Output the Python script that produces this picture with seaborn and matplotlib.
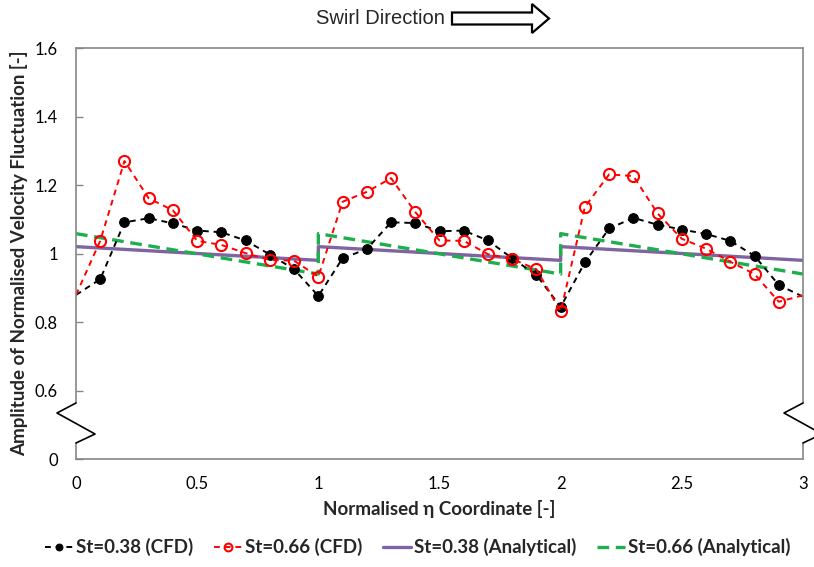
import numpy as np
import pandas as pd
import matplotlib
matplotlib.use("Agg")
import matplotlib.pyplot as plt
import matplotlib.patches as mpatches
from matplotlib.transforms import IdentityTransform
import seaborn as sns

# ---------------- data ----------------
eta_cfd = [0.0, 0.1, 0.2, 0.3, 0.4, 0.5, 0.6, 0.7, 0.8, 0.9,
           1.0, 1.1, 1.2, 1.3, 1.4, 1.5, 1.6, 1.7, 1.8, 1.9,
           2.0, 2.1, 2.2, 2.3, 2.4, 2.5, 2.6, 2.7, 2.8, 2.9, 3.0]
st038_cfd = [0.879, 0.925, 1.091, 1.103, 1.088, 1.067, 1.062, 1.038, 0.997, 0.954,
             0.876, 0.986, 1.013, 1.091, 1.089, 1.065, 1.067, 1.038, 0.986, 0.937,
             0.844, 0.974, 1.073, 1.104, 1.084, 1.070, 1.057, 1.037, 0.993, 0.908, 0.874]
st066_cfd = [0.879, 1.037, 1.270, 1.161, 1.126, 1.037, 1.025, 1.001, 0.981, 0.979,
             0.932, 1.151, 1.180, 1.220, 1.121, 1.038, 1.037, 0.998, 0.984, 0.954,
             0.831, 1.136, 1.231, 1.226, 1.117, 1.043, 1.014, 0.976, 0.940, 0.859, 0.878]
eta_ana = [0.0, 1.0, 1.0, 2.0, 2.0, 3.0]
st038_ana = [1.020, 0.980, 1.020, 0.980, 1.020, 0.980]
st066_ana = [1.058, 0.940, 1.058, 0.940, 1.058, 0.940]

y_ticks = [0.4, 0.6, 0.8, 1.0, 1.2, 1.4, 1.6]
y_tick_labels = ["0", "0.6", "0.8", "1", "1.2", "1.4", "1.6"]
x_ticks = [0, 0.5, 1, 1.5, 2, 2.5, 3]
x_tick_labels = ["0", "0.5", "1", "1.5", "2", "2.5", "3"]

labels = ["St=0.38 (CFD)", "St=0.66 (CFD)", "St=0.38 (Analytical)", "St=0.66 (Analytical)"]

# ---------------- style ----------------
sns.set_style("white")
plt.rcParams["font.family"] = ["Lato", "DejaVu Sans"]

fig = plt.figure(figsize=(8.14, 5.67), dpi=100)
ax = fig.add_axes([76 / 814, 1 - 459 / 567, (803 - 76) / 814, (459 - 48) / 567])

gray = "#868686"
purple = "#8064A2"
green = "#1DAF4E"
inner = list(range(1, len(eta_cfd) - 1))   # markers not drawn on the axis edges

df1 = pd.DataFrame({"x": eta_cfd, "y": st038_cfd})
df2 = pd.DataFrame({"x": eta_cfd, "y": st066_cfd})
df3 = pd.DataFrame({"x": eta_ana, "y": st038_ana})
df4 = pd.DataFrame({"x": eta_ana, "y": st066_ana})

sns.lineplot(data=df3, x="x", y="y", ax=ax, estimator=None, sort=False,
             color=purple, linewidth=2.4, label=labels[2])
sns.lineplot(data=df4, x="x", y="y", ax=ax, estimator=None, sort=False,
             color=green, linewidth=2.4, label=labels[3])
sns.lineplot(data=df1, x="x", y="y", ax=ax, estimator=None, sort=False,
             color="black", linewidth=1.4, marker="o", markersize=7,
             markeredgecolor="black", markevery=inner, label=labels[0])
sns.lineplot(data=df2, x="x", y="y", ax=ax, estimator=None, sort=False,
             color="#FF0000", linewidth=1.4, marker="o", markersize=8,
             markerfacecolor="none", markeredgecolor="#FF0000", markeredgewidth=1.5,
             markevery=inner, label=labels[1])

lines = ax.get_lines()
lines[1].set_linestyle((0, (3.5, 2)))
lines[2].set_linestyle((0, (3, 2.5)))
lines[3].set_linestyle((0, (3, 2.5)))

ax.set_xlim(0, 3)
ax.set_ylim(0.4, 1.6)
ax.set_xticks(x_ticks)
ax.set_xticklabels(x_tick_labels)
ax.set_yticks(y_ticks)
ax.set_yticklabels(y_tick_labels)
ax.tick_params(axis="both", labelsize=12, colors="black")
ax.tick_params(axis="y", direction="in", length=5, width=1, color=gray, pad=13, left=True)
ax.tick_params(axis="x", length=0, pad=12)

ax.set_xlabel("Normalised η Coordinate [-]", fontsize=13.5, fontweight="bold", labelpad=6)
ax.set_ylabel("Amplitude of Normalised Velocity Fluctuation [-]", fontsize=13.5,
              fontweight="bold", labelpad=5)

for side in ["top", "bottom"]:
    ax.spines[side].set_color(gray)
    ax.spines[side].set_linewidth(1.2)
ax.spines["left"].set_visible(False)
ax.spines["right"].set_visible(False)

# axis lines with break marks (axes coordinates)
y_hi = (459 - 403) / 411
y_lo = (459 - 443) / 411
y_z1 = (459 - 413) / 411
y_z2 = (459 - 434) / 411
dx = 19 / 727
for x0 in (0.0, 1.0):
    ax.plot([x0, x0], [y_hi, 1.0], color=gray, lw=1.2, transform=ax.transAxes, clip_on=False)
    ax.plot([x0, x0], [0.0, y_lo], color=gray, lw=1.2, transform=ax.transAxes, clip_on=False)
    ax.plot([x0, x0 - dx, x0 + dx, x0], [y_hi, y_z1, y_z2, y_lo], color="black", lw=1.2,
            transform=ax.transAxes, clip_on=False)

# legend
handles, labs = ax.get_legend_handles_labels()
order = [labs.index(l) for l in labels]
leg = ax.legend([handles[i] for i in order], [labs[i] for i in order],
                loc="center", bbox_to_anchor=(0.47, -0.215), ncol=4, frameon=False,
                prop={"size": 13.5, "weight": "bold"}, handlelength=1.5,
                handletextpad=0.15, columnspacing=1.1, markerscale=0.7)

# title with hollow arrow
fig.text(445 / 814, 1 - 18 / 567, "Swirl Direction", ha="right", va="center",
         fontsize=14.5, family=["Liberation Sans", "DejaVu Sans"])
arrow = mpatches.FancyArrow(452, 567 - 18.5, 80, 0, width=12, head_width=29,
                            head_length=17, length_includes_head=False,
                            facecolor="white", edgecolor="black", linewidth=1.6,
                            transform=IdentityTransform())
fig.add_artist(arrow)

fig.savefig("out.png", dpi=100)
